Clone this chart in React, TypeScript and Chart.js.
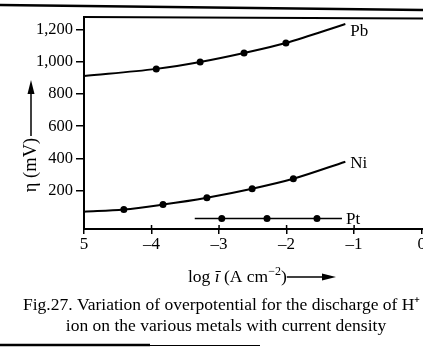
import React, { useEffect, useRef } from "react";
import { Chart, registerables } from "chart.js";
Chart.register(...registerables);

const pbX = [-5, -3.93, -3.28, -2.63, -2.01, -1.13];
const pbY = [913, 957, 1000, 1056, 1118, 1236];
const niX = [-5, -4.41, -3.83, -3.18, -2.51, -1.9, -1.13];
const niY = [68, 81, 112, 155, 211, 273, 379];
const ptX = [-3.36, -2.96, -2.29, -1.55, -1.18];
const ptY = [25, 25, 25, 25, 25];
const seriesNames = ["Pb", "Ni", "Pt"];
const xTicks = [-5, -4, -3, -2, -1, 0];
const xTickLabels = ["5", "–4", "–3", "–2", "–1", "0"];
const yTicks = [200, 400, 600, 800, 1000, 1200];
const yTickLabels = ["200", "400", "600", "800", "1,000", "1,200"];
const captionLines = [
  "Fig.27. Variation of overpotential for the discharge of H⁺",
  "ion on the various metals with current density",
];

const FONT = "'Liberation Serif', 'Times New Roman', serif";

function toPoints(xs: number[], ys: number[]) {
  return xs.map((x, i) => ({ x, y: ys[i] }));
}

const radius = (ctx: any) => {
  const n = ctx.dataset.data.length;
  return ctx.dataIndex === 0 || ctx.dataIndex === n - 1 ? 0 : 3.5;
};

const decor = {
  id: "decor",
  afterDraw(chart: any) {
    const ctx = chart.ctx;
    const xs = chart.scales.x;
    const ys = chart.scales.y;
    const area = chart.chartArea;
    ctx.save();
    ctx.strokeStyle = "#000";
    ctx.fillStyle = "#000";
    // page lines
    ctx.lineWidth = 2.5;
    ctx.beginPath();
    ctx.moveTo(0, 5);
    ctx.lineTo(423, 10);
    ctx.stroke();
    ctx.beginPath();
    ctx.moveTo(0, 345);
    ctx.lineTo(150, 345);
    ctx.stroke();
    ctx.lineWidth = 1;
    ctx.beginPath();
    ctx.moveTo(150, 345.5);
    ctx.lineTo(260, 345.5);
    ctx.stroke();
    // top border of plot
    ctx.lineWidth = 2;
    ctx.beginPath();
    ctx.moveTo(area.left - 1, area.top);
    ctx.lineTo(area.right, area.top + 1.5);
    ctx.stroke();
    // inner parts of x ticks
    ctx.lineWidth = 1.5;
    xTicks.slice(1, 5).forEach((v) => {
      const px = xs.getPixelForValue(v);
      ctx.beginPath();
      ctx.moveTo(px, area.bottom);
      ctx.lineTo(px, area.bottom - 4);
      ctx.stroke();
    });
    // series labels
    ctx.font = `17px ${FONT}`;
    ctx.textBaseline = "middle";
    ctx.textAlign = "left";
    const ends = [
      [pbX[pbX.length - 1], pbY[pbY.length - 1], 5, 7],
      [niX[niX.length - 1], niY[niY.length - 1], 5, 2],
      [ptX[ptX.length - 1], ptY[ptY.length - 1], 4, 1],
    ];
    ends.forEach((e, i) => {
      ctx.fillText(seriesNames[i], xs.getPixelForValue(e[0]) + e[2], ys.getPixelForValue(e[1]) + e[3]);
    });
    // y title with arrow
    ctx.save();
    ctx.translate(31, 165);
    ctx.rotate(-Math.PI / 2);
    ctx.font = `18.5px ${FONT}`;
    ctx.textAlign = "center";
    ctx.fillText("η (mV)", 0, 0);
    ctx.restore();
    ctx.lineWidth = 1.5;
    ctx.beginPath();
    ctx.moveTo(31, 136);
    ctx.lineTo(31, 90);
    ctx.stroke();
    ctx.beginPath();
    ctx.moveTo(31, 80);
    ctx.lineTo(27.5, 94);
    ctx.lineTo(34.5, 94);
    ctx.closePath();
    ctx.fill();
    // x title with arrow
    ctx.textAlign = "left";
    ctx.textBaseline = "alphabetic";
    let cx = 188;
    const base = 282;
    const part = (t: string, f: string, dy = 0) => {
      ctx.font = f;
      ctx.fillText(t, cx, base + dy);
      cx += ctx.measureText(t).width;
    };
    part("log ", `17.5px ${FONT}`);
    part("ī", `italic 17.5px ${FONT}`);
    part(" (A cm", `17.5px ${FONT}`);
    part("−2", `12px ${FONT}`, -7);
    part(")", `17.5px ${FONT}`);
    ctx.lineWidth = 1.5;
    ctx.beginPath();
    ctx.moveTo(cx, base - 5);
    ctx.lineTo(326, base - 5);
    ctx.stroke();
    ctx.beginPath();
    ctx.moveTo(336, base - 5);
    ctx.lineTo(322, base - 8.5);
    ctx.lineTo(322, base - 1.5);
    ctx.closePath();
    ctx.fill();
    // caption
    ctx.font = `17.5px ${FONT}`;
    ctx.textBaseline = "alphabetic";
    ctx.textAlign = "left";
    ctx.fillText(captionLines[0], 23, 310);
    ctx.textAlign = "center";
    ctx.fillText(captionLines[1], 226, 331);
    ctx.restore();
  },
};

export default function App() {
  const ref = useRef<HTMLCanvasElement | null>(null);
  useEffect(() => {
    document.body.style.margin = "0";
    const canvas = ref.current!;
    const line = (name: string, xs: number[], ys: number[], w: number) => ({
      label: name,
      data: toPoints(xs, ys),
      borderColor: "#000",
      backgroundColor: "#000",
      borderWidth: w,
      pointRadius: radius,
      pointHoverRadius: radius,
      pointBackgroundColor: "#000",
      pointBorderWidth: 0,
      cubicInterpolationMode: "monotone" as const,
      fill: false,
    });
    const chart = new Chart(canvas, {
      type: "line",
      data: {
        datasets: [
          line(seriesNames[0], pbX, pbY, 2),
          line(seriesNames[1], niX, niY, 2),
          line(seriesNames[2], ptX, ptY, 1.5),
        ],
      },
      options: {
        animation: false,
        responsive: false,
        devicePixelRatio: 1,
        events: [],
        layout: { padding: { top: 17, left: 0, right: 0, bottom: 0 } },
        plugins: { legend: { display: false }, tooltip: { enabled: false } },
        scales: {
          x: {
            type: "linear",
            min: -5,
            max: 0.02,
            afterBuildTicks: (s: any) => {
              s.ticks = xTicks.map((v) => ({ value: v }));
            },
            afterFit: (s: any) => {
              s.height = 118;
              s.paddingLeft = 0;
              s.paddingRight = 0;
            },
            ticks: {
              autoSkip: false,
              maxRotation: 0,
              padding: 0,
              color: "#000",
              font: { family: FONT, size: 17 },
              callback: (v: any) => xTickLabels[xTicks.indexOf(Number(v))] ?? "",
            },
            grid: { drawOnChartArea: false, tickLength: 5, color: "#000", lineWidth: 1.5 },
            border: { color: "#000", width: 2 },
          },
          y: {
            type: "linear",
            min: -40,
            max: 1280,
            afterBuildTicks: (s: any) => {
              s.ticks = yTicks.map((v) => ({ value: v }));
            },
            afterFit: (s: any) => {
              s.width = 84;
              s.paddingTop = 0;
              s.paddingBottom = 0;
            },
            ticks: {
              padding: 3,
              color: "#000",
              font: { family: FONT, size: 16.5 },
              callback: (v: any) => yTickLabels[yTicks.indexOf(Number(v))] ?? "",
            },
            grid: { drawOnChartArea: false, tickLength: 8, color: "#000", lineWidth: 1.5 },
            border: { color: "#000", width: 2 },
          },
        },
      },
      plugins: [decor],
    });
    return () => chart.destroy();
  }, []);
  return (
    <div style={{ width: 423, height: 347, position: "relative", background: "#fff" }}>
      <canvas ref={ref} width={423} height={347} style={{ display: "block" }} />
    </div>
  );
}
